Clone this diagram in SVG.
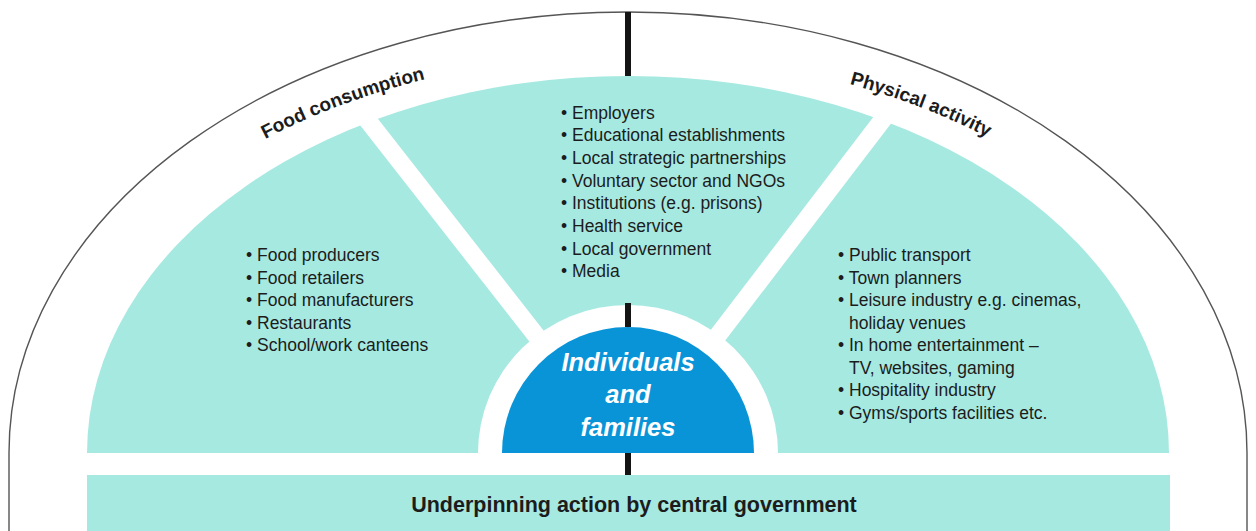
<svg xmlns="http://www.w3.org/2000/svg" width="1256" height="531" viewBox="0 0 1256 531">
  <defs>
    <style>
      .teal { fill: #a6e9e1; }
      .gap { stroke: #ffffff; stroke-width: 18; fill: none; }
      .bar { stroke: #141414; stroke-width: 6; }
      .list { font-family: "Liberation Sans", Arial, sans-serif; font-size: 17.5px; fill: #1c1c1c; }
      .label { font-family: "Liberation Sans", Arial, sans-serif; font-size: 19px; font-weight: bold; fill: #1c1c1c; }
      .center { font-family: "Liberation Sans", Arial, sans-serif; font-size: 25.5px; font-weight: bold; font-style: italic; fill: #ffffff; text-anchor: middle; }
      .base { font-family: "Liberation Sans", Arial, sans-serif; font-size: 21.5px; font-weight: bold; fill: #1c1c1c; text-anchor: middle; }
    </style>
    <path id="labelArc" d="M 37 453 A 591 398 0 0 1 1219 453"/>
  </defs>
  <rect width="1256" height="531" fill="#ffffff"/>

  <!-- outer frame -->
  <path id="outline" d="M 9 531 L 9 453 A 619 441 0 0 1 1247 453 L 1247 531" fill="none" stroke="#555555" stroke-width="1.4"/>

  <!-- teal fan -->
  <path class="teal" d="M 87 453 A 541 377 0 0 1 1169 453 Z"/>
  <line class="gap" x1="628" y1="453" x2="351" y2="99"/>
  <line class="gap" x1="628" y1="453" x2="903" y2="93"/>

  <g id="connectors">
    <line class="bar" x1="628" y1="12" x2="628" y2="76"/>
    <line class="bar" x1="628" y1="453" x2="628" y2="475"/>
  </g>

  <g id="individuals">
    <path d="M 478 453 A 150 148 0 0 1 778 453 Z" fill="#ffffff"/>
    <line class="bar" x1="628" y1="303" x2="628" y2="327"/>
    <path d="M 502 453 A 126 126 0 0 1 754 453 Z" fill="#0a94d8"/>
    <text class="center" x="628" y="371">Individuals</text>
    <text class="center" x="628" y="403">and</text>
    <text class="center" x="628" y="436">families</text>
  </g>

  <g id="food-consumption">
    <text class="label" text-anchor="middle"><textPath href="#labelArc" startOffset="31.5%">Food consumption</textPath></text>
    <text class="list" x="246" y="261">• Food producers</text>
    <text class="list" x="246" y="283.5">• Food retailers</text>
    <text class="list" x="246" y="306">• Food manufacturers</text>
    <text class="list" x="246" y="328.5">• Restaurants</text>
    <text class="list" x="246" y="351">• School/work canteens</text>
  </g>

  <g id="settings">
    <text class="list" x="561" y="118.5">• Employers</text>
    <text class="list" x="561" y="141.2">• Educational establishments</text>
    <text class="list" x="561" y="163.9">• Local strategic partnerships</text>
    <text class="list" x="561" y="186.6">• Voluntary sector and NGOs</text>
    <text class="list" x="561" y="209.3">• Institutions (e.g. prisons)</text>
    <text class="list" x="561" y="232">• Health service</text>
    <text class="list" x="561" y="254.7">• Local government</text>
    <text class="list" x="561" y="277.4">• Media</text>
  </g>

  <g id="physical-activity">
    <text class="label" text-anchor="middle"><textPath href="#labelArc" startOffset="69%">Physical activity</textPath></text>
    <text class="list" x="838" y="261">• Public transport</text>
    <text class="list" x="838" y="283.5">• Town planners</text>
    <text class="list" x="838" y="306">• Leisure industry e.g. cinemas,</text>
    <text class="list" x="849" y="328.5">holiday venues</text>
    <text class="list" x="838" y="351">• In home entertainment –</text>
    <text class="list" x="849" y="373.5">TV, websites, gaming</text>
    <text class="list" x="838" y="396">• Hospitality industry</text>
    <text class="list" x="838" y="418.5">• Gyms/sports facilities etc.</text>
  </g>

  <g id="central-government">
    <rect class="teal" x="87" y="475" width="1083" height="56"/>
    <text class="base" x="634" y="512">Underpinning action by central government</text>
  </g>
</svg>
